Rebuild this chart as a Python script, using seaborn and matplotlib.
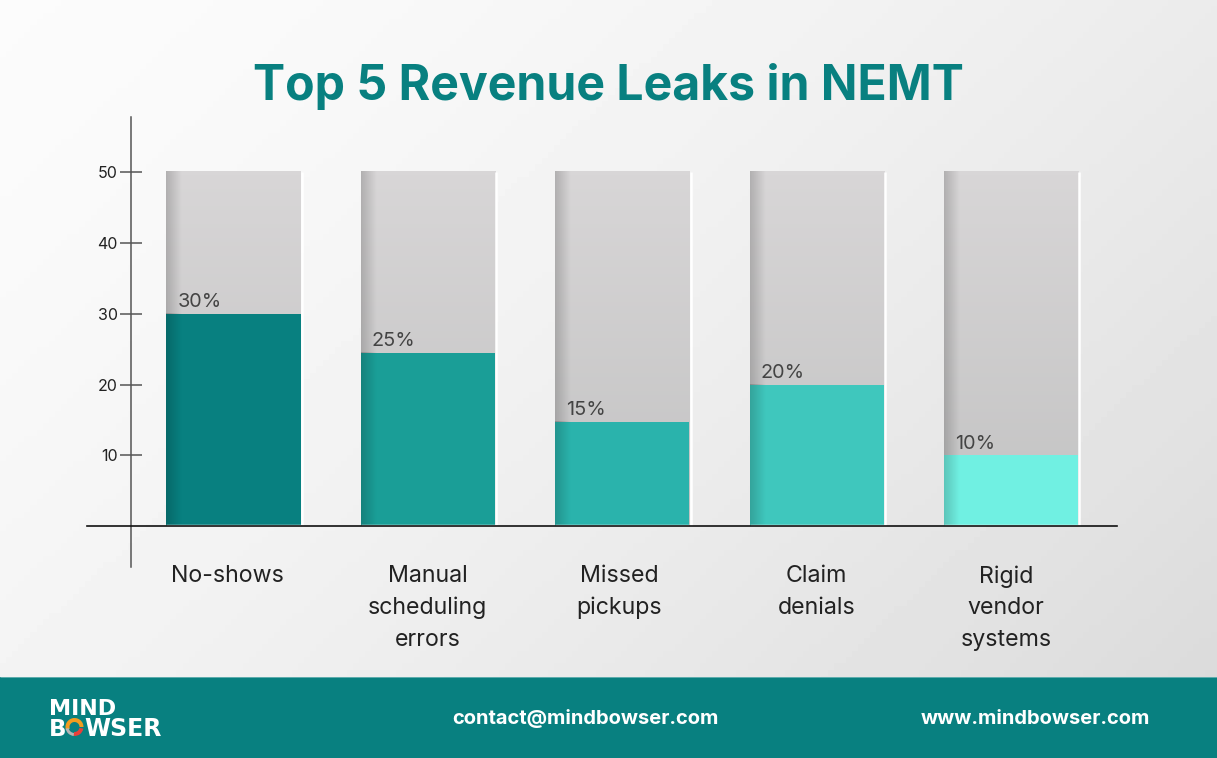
import numpy as np
import pandas as pd
import matplotlib
matplotlib.use('Agg')
import matplotlib.pyplot as plt
from matplotlib.patches import Rectangle, Wedge
from matplotlib.transforms import ScaledTranslation
import seaborn as sns

sns.set_theme(style='white')
plt.rcParams['font.family'] = ['Inter', 'DejaVu Sans']

# data
categories = ['No-shows', 'Manual\nscheduling\nerrors', 'Missed\npickups', 'Claim\ndenials', 'Rigid\nvendor\nsystems']
bar_values = [30, 24.5, 14.7, 20, 10]
pct_labels = ['30%', '25%', '15%', '20%', '10%']
scale_max = [50, 50, 50, 50, 50]
y_ticks = [10, 20, 30, 40, 50]

bar_colors = ['#088080', '#1a9e97', '#2ab3ac', '#3fc7bd', '#70f0e2']
TEAL = '#088080'
W, H = 1217, 758

df = pd.DataFrame({'cat': categories, 'value': bar_values, 'full': scale_max})

fig = plt.figure(figsize=(W / 100, H / 100), dpi=100)

# page background, works in pixel coordinates
bg = fig.add_axes([0, 0, 1, 1])
gx, gy = np.meshgrid(np.linspace(0, 1, 200), np.linspace(0, 1, 120))
grad = (gx * 0.6 + gy * 0.4) ** 1.5
bg.imshow(0.985 - grad * 0.135, extent=[0, W, H, 0], cmap='gray', vmin=0, vmax=1, aspect='auto')
bg.add_patch(Rectangle((0, 677), W, 81, color=TEAL, lw=0))
bg.hlines(676.5, 0, W, color='#6fb5b5', lw=0.6)
bg.set_xlim(0, W)
bg.set_ylim(H, 0)
bg.axis('off')

bg.text(608, 87, 'Top 5 Revenue Leaks in NEMT', color=TEAL, fontsize=34.7, fontweight='bold',
        ha='center', va='center')
bg.text(585, 718, 'contact@mindbowser.com', color='white', fontsize=14.5, fontweight='bold',
        ha='center', va='center')
bg.text(1035, 719, 'www.mindbowser.com', color='white', fontsize=14.5, fontweight='bold',
        ha='center', va='center')

# logo
logo_font = dict(color='white', fontweight='bold', family=['DejaVu Sans'], va='baseline', ha='left')
bg.text(49, 715, 'MIND', fontsize=16, **logo_font)
bg.text(49, 736, 'B', fontsize=16.5, **logo_font)
bg.text(84, 736, 'WSER', fontsize=17, **logo_font)
bg.add_patch(Wedge((74.5, 727), 9, 160, 360, width=4, color='#f39c1f', lw=0))
bg.add_patch(Wedge((74.5, 727), 9, 10, 95, width=4, color='#e8403a', lw=0))
bg.add_patch(Wedge((74.5, 727), 9, 95, 170, width=3, color='#b5b5b5', lw=0))

# chart area: x 87-1117, y 117-567 px
ax = fig.add_axes([87 / W, 1 - 567 / H, (1117 - 87) / W, (567 - 117) / H])
ax.patch.set_alpha(0)

sns.barplot(data=df, x='cat', y='full', color='#d6d4d5', width=0.69, saturation=1, linewidth=0, ax=ax, zorder=1)
n_full = len(ax.patches)
sns.barplot(data=df, x='cat', y='value', hue='cat', palette=bar_colors, width=0.69, saturation=1,
            linewidth=0, legend=False, ax=ax, zorder=2)
full_bars = ax.patches[:n_full]
value_bars = ax.patches[n_full:]

shade = np.zeros((1, 64, 4))
shade[0, :, 3] = np.linspace(0.18, 0, 64)
vert = np.zeros((100, 1, 3))
vert[:, 0, 0] = np.linspace(216, 195, 100) / 255
vert[:, 0, 1] = np.linspace(214, 195, 100) / 255
vert[:, 0, 2] = np.linspace(215, 195, 100) / 255
shade_w = 16 / 194.4

for full, bar, pct in zip(full_bars, value_bars, pct_labels):
    x0, w = full.get_x(), full.get_width()
    # grey column darkens downwards
    ax.imshow(vert, extent=[x0, x0 + w, 0, 50], aspect='auto', zorder=1.5)
    ax.imshow(shade, extent=[x0, x0 + shade_w, 0, 50], aspect='auto', zorder=1.6)
    top = bar.get_height()
    ax.imshow(shade, extent=[x0, x0 + shade_w, 0, top], aspect='auto', zorder=2.5)
    # white edge on the right and under the column
    ax.vlines(x0 + w + 0.006, 0, 50, color='white', lw=1.8, zorder=2.6)
    ax.hlines(0.18, x0, x0 + w, color='white', lw=1.0, zorder=2.6)
    ax.annotate(pct, (x0, top), xytext=(8, 2), textcoords='offset points', color='#444444',
                fontsize=14.3, va='bottom', ha='left', zorder=3)

ax.set_xlim(-0.7536, 4.545)
ax.set_ylim(-5.75, 57.8)

for side in ['top', 'right']:
    ax.spines[side].set_visible(False)
ax.spines['left'].set_position(('data', -0.5272))
ax.spines['left'].set_color('#555555')
ax.spines['left'].set_linewidth(1.1)
ax.spines['bottom'].set_position(('data', 0))
ax.spines['bottom'].set_color('#111111')
ax.spines['bottom'].set_linewidth(1.2)
ax.spines['bottom'].set_zorder(3)

ax.set_yticks(y_ticks)
ax.tick_params(axis='y', direction='inout', length=15.8, width=1.1, color='#555555',
               labelsize=11.5, labelcolor='#222222', pad=1.5, left=True)
ax.tick_params(axis='x', length=0, labelsize=16.7, labelcolor='#222222', pad=28)
ax.set_xlabel('')
ax.set_ylabel('')
ax.set_xticks(range(len(categories)))
ax.set_xticklabels(categories, linespacing=1.56)

# labels sit a little off the column centres in the original
label_shift_px = [-6, 0, -3, 0, -5]
for lab, dx in zip(ax.get_xticklabels(), label_shift_px):
    lab.set_transform(lab.get_transform() + ScaledTranslation(dx / 100, 0, fig.dpi_scale_trans))

fig.savefig('out.png', dpi=100)
